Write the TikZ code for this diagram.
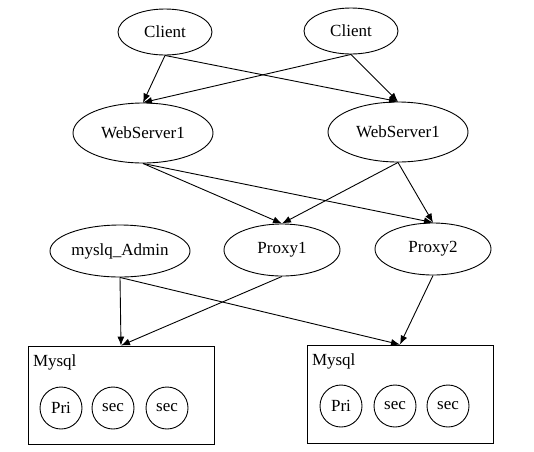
\documentclass[tikz,border=0pt]{standalone}
\usepackage{fontspec}
\setmainfont{Liberation Serif}
\usetikzlibrary{shapes.geometric, arrows.meta}

\begin{document}
\begin{tikzpicture}[x=1pt,y=-1pt,font=\fontsize{17}{20}\selectfont,line width=0.9pt,>={Latex[length=9pt,width=7pt]}]
% Node styles: hosts, databases and boxes
\tikzstyle{host node}=[ellipse,draw,inner sep=0];
\tikzstyle{db node}=[circle,draw,inner sep=0,minimum size=42pt];
\tikzstyle{db box}=[rectangle,draw,inner sep=0,minimum width=186pt,minimum height=98pt];
\useasboundingbox (0,0) rectangle (534,451);
% Clients
\node(c1)[host node,minimum width=94pt,minimum height=46pt]at(165,32){Client};
\node(c2)[host node,minimum width=94pt,minimum height=46pt]at(351,31){Client};
% Web servers
\node(w1)[host node,minimum width=140pt,minimum height=60pt]at(143,133){WebServer1};
\node(w2)[host node,minimum width=140pt,minimum height=60pt]at(398,132){WebServer1};
% Admin and proxies
\node(a)[host node,minimum width=140pt,minimum height=52pt]at(120,251){myslq\_Admin};
\node(p1)[host node,minimum width=116pt,minimum height=52pt]at(282,250){Proxy1};
\node(p2)[host node,minimum width=116pt,minimum height=52pt]at(433,249){Proxy2};
% Mysql boxes
\node(m1)[db box]at(121,395){};
\node(m2)[db box]at(400,394){};
\node(l1)[anchor=north west,inner sep=0]at([xshift=5pt,yshift=-9pt]m1.north west){Mysql};
\node(l2)[anchor=north west,inner sep=0]at([xshift=5pt,yshift=-9pt]m2.north west){Mysql};
\node(d1)[db node]at(61,408){Pri};
\node(d2)[db node]at(113,408){sec};
\node(d3)[db node]at(167,408){sec};
\node(d4)[db node]at(341,406){Pri};
\node(d5)[db node]at(395,406){sec};
\node(d6)[db node]at(448,406){sec};
% Connections
\foreach \a/\b in {c1/w1,c2/w1,c1/w2,c2/w2,w1/p1,w1/p2,w2/p1,w2/p2,a/m1,a/m2,p1/m1,p2/m2}
\draw[->](\a.south)--(\b.north);
\end{tikzpicture}
\end{document}
